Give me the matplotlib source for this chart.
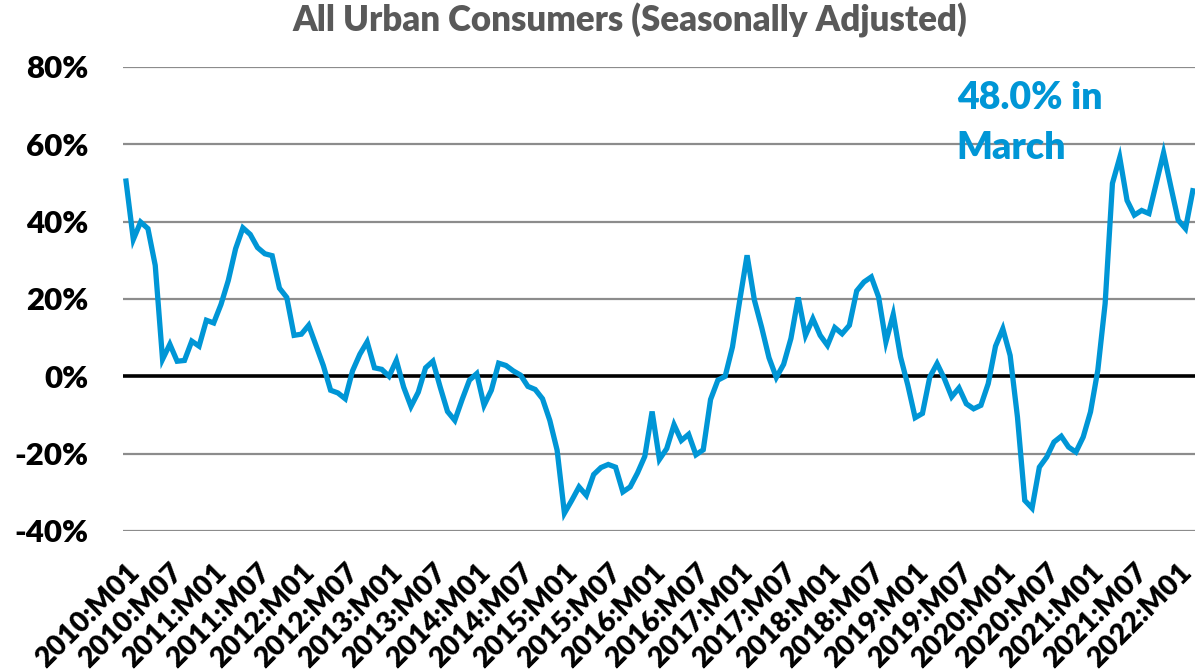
import numpy as np
import matplotlib.pyplot as plt

plt.rcParams['font.family'] = ['Lato', 'DejaVu Sans']

# monthly values, 2010:M01 .. 2022:M03 (percent)
valores = [
    50.5, 35.4, 39.9, 38.2, 28.7, 4.4, 8.3, 3.9, 4.1, 9.1, 7.8, 14.5,
    13.8, 18.6, 24.8, 33.0, 38.4, 36.7, 33.3, 31.7, 31.2, 22.8, 20.4, 10.6,
    10.9, 13.2, 8.0, 2.8, -3.6, -4.3, -5.8, 1.4, 5.7, 8.9, 2.2, 1.8,
    0.0, 4.1, -2.8, -7.8, -4.1, 2.2, 3.9, -2.8, -9.1, -11.4, -6.0, -1.0,
    0.7, -7.5, -3.6, 3.4, 2.8, 1.4, 0.3, -2.6, -3.4, -5.8, -11.4, -19.1,
    -35.4, -32.1, -28.6, -30.8, -25.4, -23.6, -22.8, -23.5, -29.9, -28.6, -25.0, -20.7,
    -9.1, -21.5, -18.7, -12.5, -16.6, -15.0, -20.3, -19.0, -6.0, -1.0, 0.0, 7.6,
    19.7, 31.3, 19.7, 12.6, 4.8, -0.3, 3.1, 9.8, 20.4, 10.6, 14.9, 10.6,
    8.0, 12.6, 11.0, 13.2, 22.1, 24.4, 25.7, 20.5, 8.9, 16.0, 5.0, -2.3,
    -10.7, -9.6, -0.2, 3.3, -0.6, -5.3, -3.0, -7.1, -8.4, -7.5, -1.9, 7.8,
    12.3, 5.4, -10.5, -32.1, -34.1, -23.5, -20.9, -17.0, -15.5, -18.3, -19.6, -15.7,
    -9.2, 1.6, 18.8, 49.9, 56.6, 45.5, 41.7, 42.9, 42.1, 49.9, 57.8, 49.0,
    40.4, 38.2, 48.0,
]
meses = [f'{2010 + k // 12}:M{k % 12 + 1:02d}' for k in range(len(valores))]
etiquetas_y = [-40, -20, 0, 20, 40, 60, 80]
texto_marzo = '48.0% in\nMarch'

azul = '#0096D6'
gris = '#8C8C8C'
peso = 'heavy'

fig = plt.figure(figsize=(11.95, 6.7), dpi=100)
ax = fig.add_axes([0.103, 0.2075, 0.897, 0.6925])

x = np.arange(len(valores))
for v in etiquetas_y:
    if v != 0:
        ax.axhline(v, color=gris, lw=1.6, zorder=1)
ax.axhline(0, color='black', lw=2.6, zorder=2)
ax.plot(x, valores, color=azul, lw=3.8, solid_joinstyle='miter', zorder=3)

ax.set_ylim(-40, 80)
ax.set_xlim(-0.4, 146.3)
ax.set_yticks(etiquetas_y)
ax.set_yticklabels([f'{v}%' for v in etiquetas_y], fontsize=22.5, fontweight=peso)
ax.set_xticks(x[::6])
ax.set_xticklabels(meses[::6], rotation=45, ha='right', rotation_mode='anchor',
                   fontsize=20.5, fontweight=peso)
ax.tick_params(axis='both', length=0)
ax.tick_params(axis='y', pad=25)
ax.tick_params(axis='x', pad=20)
for s in ax.spines.values():
    s.set_visible(False)

fig.text(0.527, 1 - 20 / 670, 'All Urban Consumers (Seasonally Adjusted)',
         fontsize=25, fontweight=peso, color='#595959', ha='center', va='center')
ax.text(113.7, 65.5, texto_marzo, color=azul, fontsize=27, fontweight=peso,
        ha='left', va='center', linespacing=1.55)

fig.savefig('out.png', dpi=100)
